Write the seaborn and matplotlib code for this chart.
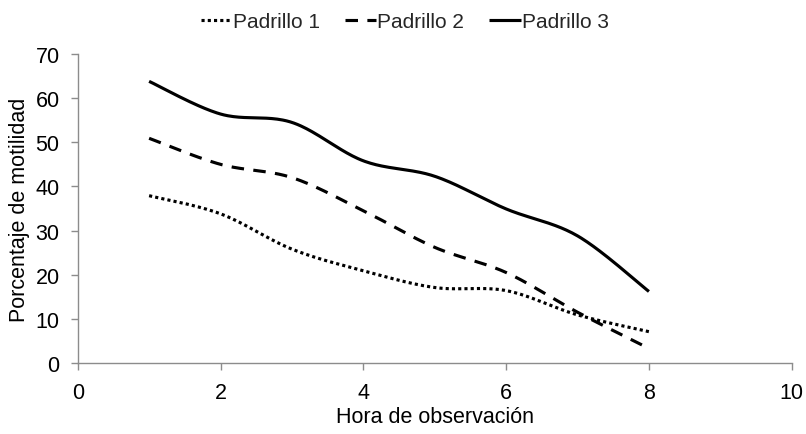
import numpy as np
import pandas as pd
import matplotlib
matplotlib.use("Agg")
import matplotlib.pyplot as plt
import seaborn as sns

hours = [1, 2, 3, 4, 5, 6, 7, 8]
padrillo_1 = [37.9, 33.8, 25.8, 20.9, 17.1, 16.4, 10.9, 7.1]
padrillo_2 = [50.9, 45.0, 42.0, 34.5, 26.2, 20.5, 11.5, 3.3]
padrillo_3 = [63.8, 56.4, 54.5, 45.8, 42.3, 34.9, 28.8, 16.2]
series_names = ["Padrillo 1", "Padrillo 2", "Padrillo 3"]
x_ticks = [0, 2, 4, 6, 8, 10]
y_ticks = [0, 10, 20, 30, 40, 50, 60, 70]
x_label = "Hora de observación"
y_label = "Porcentaje de motilidad"


def smooth(xs, ys, n=40):
    # Excel-like smoothing: cubic Bezier with Catmull-Rom control points
    p = np.column_stack([xs, ys]).astype(float)
    pts = np.vstack([p[0], p, p[-1]])
    out = []
    t = np.linspace(0, 1, n)
    for i in range(1, len(pts) - 2):
        p0, p1, p2, p3 = pts[i - 1], pts[i], pts[i + 1], pts[i + 2]
        c1 = p1 + (p2 - p0) / 6.0
        c2 = p2 - (p3 - p1) / 6.0
        seg = ((1 - t) ** 3)[:, None] * p1 + (3 * (1 - t) ** 2 * t)[:, None] * c1 \
            + (3 * (1 - t) * t ** 2)[:, None] * c2 + (t ** 3)[:, None] * p2
        out.append(seg if i == 1 else seg[1:])
    return np.vstack(out)


sns.set_theme(style="white")
plt.rcParams["font.family"] = ["Liberation Sans", "DejaVu Sans"]

FS = 15.5
fig = plt.figure(figsize=(8.06, 4.35), dpi=100)
ax = fig.add_axes([0.0964, 0.1632, 0.8859, 0.7104])

styles = [(0, (1, 1)), (0, (4, 3)), "-"]
for name, vals, ls in zip(series_names, [padrillo_1, padrillo_2, padrillo_3], styles):
    c = smooth(hours, vals)
    df = pd.DataFrame({"x": c[:, 0], "y": c[:, 1]})
    sns.lineplot(data=df, x="x", y="y", ax=ax, color="black", linewidth=2.25,
                 linestyle=ls, sort=False, estimator=None, label=name)
for line in ax.get_lines():
    line.set_dash_capstyle("butt")
    line.set_solid_capstyle("butt")

ax.set_xlim(0, 10)
ax.set_ylim(0, 70)
ax.set_xticks(x_ticks)
ax.set_yticks(y_ticks)
ax.set_xlabel(x_label, fontsize=FS, color="black", labelpad=2)
ax.set_ylabel(y_label, fontsize=FS, color="black", labelpad=4)
ax.tick_params(axis="both", labelsize=FS, labelcolor="black", length=5, width=1,
               direction="out", bottom=True, left=True, color="#8c8c8c")
ax.tick_params(axis="x", pad=9)
ax.tick_params(axis="y", pad=8)
for side in ["bottom", "left"]:
    ax.spines[side].set_color("#8c8c8c")
    ax.spines[side].set_linewidth(1)
for side in ["top", "right"]:
    ax.spines[side].set_visible(False)

leg = ax.legend(loc="center", bbox_to_anchor=(0.458, 1.105), ncol=3, frameon=False,
                fontsize=15, handlelength=1.5, handletextpad=0.05, columnspacing=1.2)

fig.savefig("out.png", dpi=100)
